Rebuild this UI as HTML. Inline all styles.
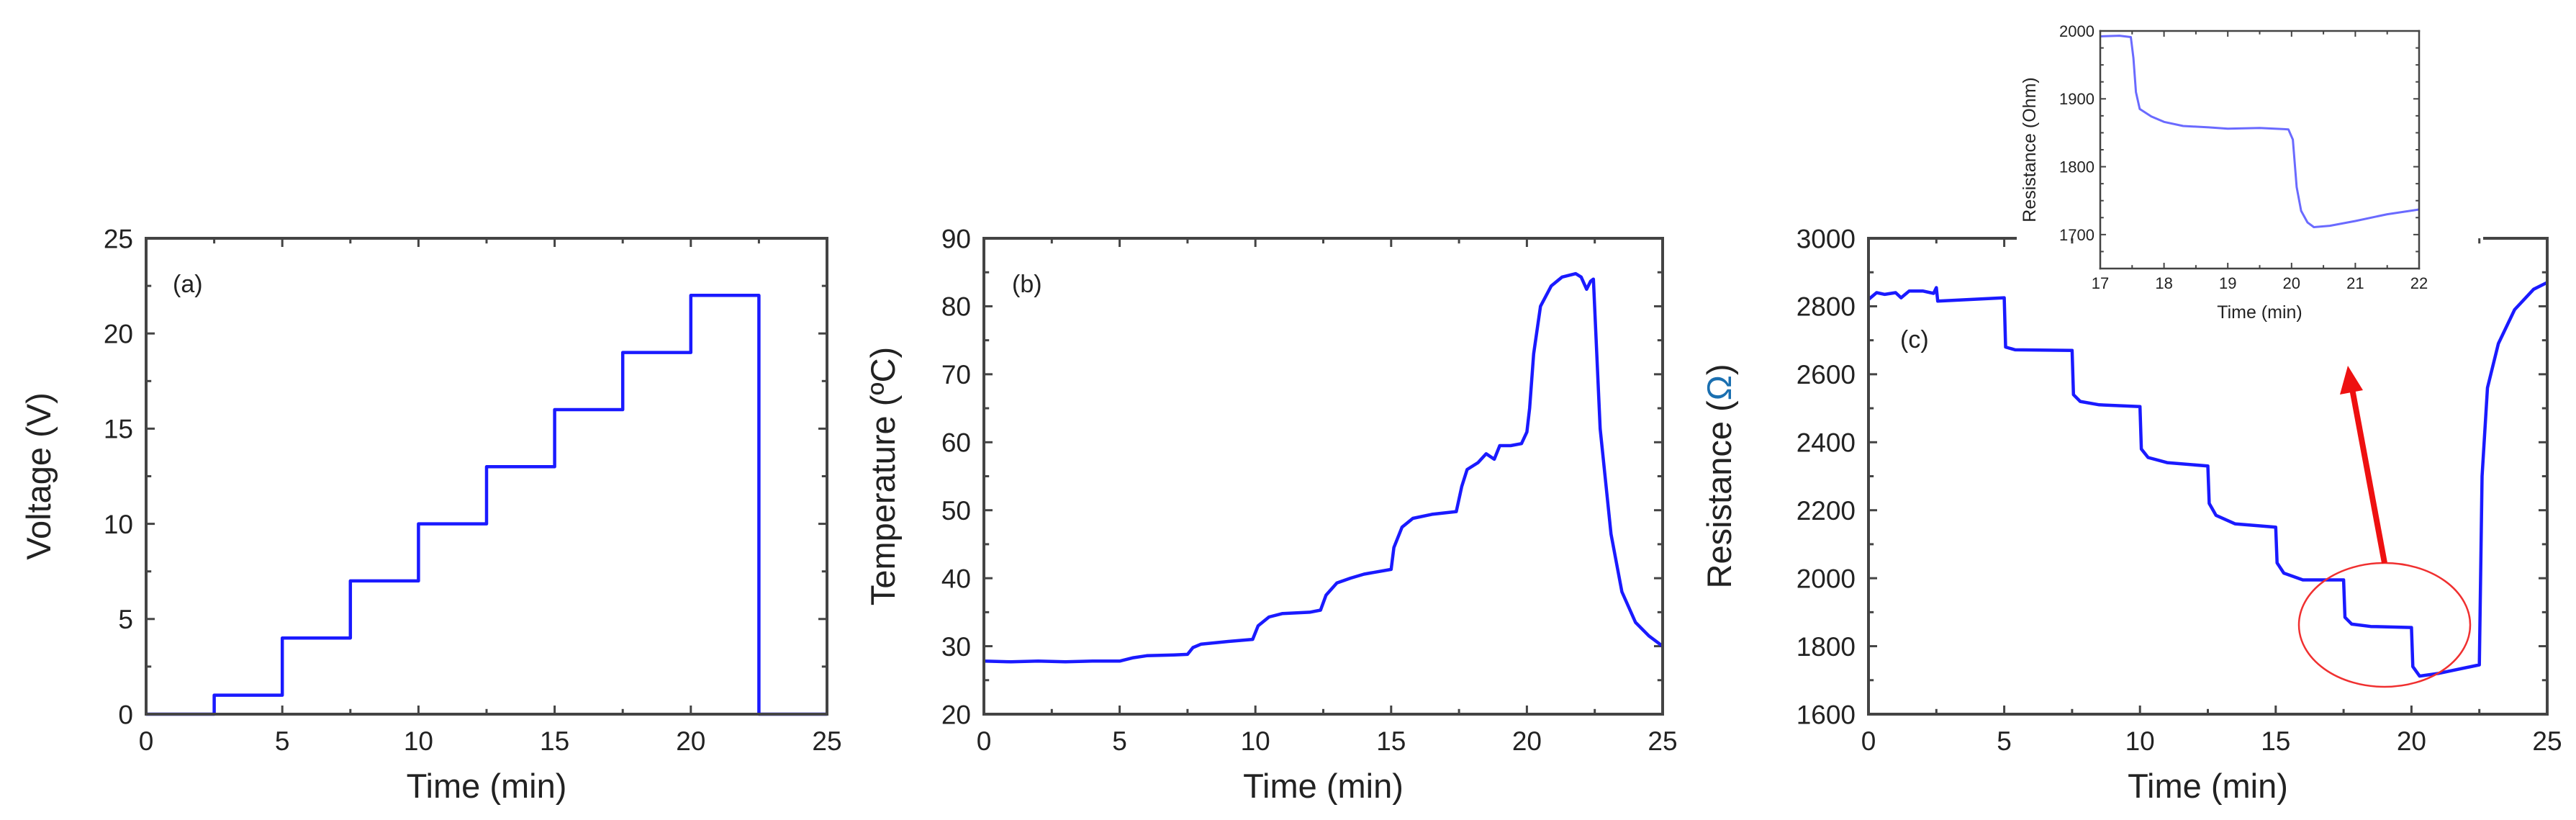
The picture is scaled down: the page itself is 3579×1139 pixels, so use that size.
<!DOCTYPE html>
<html><head><meta charset="utf-8">
<style>
html,body{margin:0;padding:0;background:#fff;}
svg{display:block;font-family:"Liberation Sans",Arial,sans-serif;}
</style></head>
<body>
<svg id="fig" width="3579" height="1139" viewBox="0 0 3579 1139" xmlns="http://www.w3.org/2000/svg"></svg>
<script>
// ---- Panel (a) data: voltage steps ----
const voltTimes = [0, 2.5, 2.5, 5, 5, 7.5, 7.5, 10, 10, 12.5, 12.5, 15, 15, 17.5, 17.5, 20, 20, 22.5, 22.5, 25];
const voltValues = [0, 0, 1, 1, 4, 4, 7, 7, 10, 10, 13, 13, 16, 16, 19, 19, 22, 22, 0, 0];
// ---- Panel (b) data: temperature ----
const tempTimes = [0, 1, 2, 3, 4, 5, 5.5, 6, 7, 7.5, 7.7, 8, 9, 9.9, 10.1, 10.5, 11, 12, 12.4, 12.6, 13, 13.5, 14, 15, 15.1, 15.4, 15.8, 16.5, 17.4, 17.6, 17.8, 18.2, 18.5, 18.8, 19, 19.4, 19.8, 20, 20.1, 20.25, 20.5, 20.9, 21.3, 21.8, 22.0, 22.2, 22.35, 22.45, 22.7, 23.1, 23.5, 24, 24.5, 25];
const tempValues = [27.8, 27.7, 27.8, 27.7, 27.8, 27.8, 28.3, 28.6, 28.7, 28.8, 29.8, 30.3, 30.7, 31.0, 33.0, 34.3, 34.8, 35.0, 35.3, 37.5, 39.3, 40.0, 40.6, 41.3, 44.5, 47.5, 48.8, 49.4, 49.8, 53.5, 56.0, 57.0, 58.3, 57.5, 59.5, 59.5, 59.8, 61.5, 65, 73, 80, 83, 84.3, 84.8, 84.3, 82.5, 83.7, 84.0, 62, 46.5, 38, 33.5, 31.5, 30];
// ---- Panel (c) data: resistance ----
const resTimes = [0, 0.3, 0.6, 1, 1.2, 1.5, 2, 2.4, 2.5, 2.55, 5, 5.05, 5.4, 7.5, 7.55, 7.8, 8.5, 10, 10.05, 10.3, 11, 12.5, 12.55, 12.8, 13.5, 15, 15.05, 15.3, 16, 17.5, 17.55, 17.8, 18.5, 20, 20.05, 20.3, 21, 22.5, 22.6, 22.8, 23.2, 23.8, 24.5, 25];
const resValues = [2820, 2840, 2835, 2840, 2825, 2845, 2845, 2838, 2855, 2815, 2825, 2680, 2672, 2670, 2540, 2520, 2510, 2505, 2380, 2355, 2340, 2330, 2220, 2185, 2160, 2150, 2045, 2015, 1995, 1995, 1885, 1865, 1858, 1855, 1740, 1712, 1720, 1745, 2300, 2560, 2690, 2790, 2850, 2870];
// ---- Inset data ----
const insTimes = [17, 17.3, 17.48, 17.52, 17.56, 17.62, 17.8, 18, 18.3, 18.7, 19, 19.5, 19.95, 20.02, 20.08, 20.15, 20.25, 20.35, 20.6, 21, 21.5, 22];
const insValues = [1992, 1993, 1991, 1960, 1910, 1885, 1874, 1866, 1860, 1858, 1856, 1857, 1855, 1840, 1770, 1735, 1718, 1711, 1713, 1720, 1730, 1737];
// ---- Tick labels ----
const timeTicks = [0, 5, 10, 15, 20, 25];
const voltTicks = [0, 5, 10, 15, 20, 25];
const tempTicks = [20, 30, 40, 50, 60, 70, 80, 90];
const resTicks = [1600, 1800, 2000, 2200, 2400, 2600, 2800, 3000];
const insXTicks = [17, 18, 19, 20, 21, 22];
const insYTicks = [1700, 1800, 1900, 2000];

const NS = "http://www.w3.org/2000/svg";
const svg = document.getElementById('fig');
function mk(tag, attrs, parent, text) {
  const e = document.createElementNS(NS, tag);
  for (const k in attrs) e.setAttribute(k, attrs[k]);
  if (text !== undefined) e.textContent = text;
  (parent || svg).appendChild(e);
  return e;
}

function panel(o) {
  const g = mk('g', {});
  
  
  const sx = v => o.x0 + (v - o.xmin) / (o.xmax - o.xmin) * (o.x1 - o.x0);
  const sy = v => o.y1 - (v - o.ymin) / (o.ymax - o.ymin) * (o.y1 - o.y0);
  if (o.bg) mk('rect', {x: o.x0, y: o.y0, width: o.x1 - o.x0, height: o.y1 - o.y0, fill: '#fff'}, g);
  const tl = o.tick, tm = o.tick * 0.6;
  const ticksG = mk('g', {stroke: '#444', 'stroke-width': o.sw}, g);
  
  
  const nx = Math.round((o.xmax - o.xmin) / o.xminor);
  for (let i = 0; i <= nx; i++) {
    const v = o.xmin + i * o.xminor;
    const r = (v - o.xmin) / o.xstep;
    const major = Math.abs(r - Math.round(r)) < 1e-6;
    const L = major ? tl : tm;
    mk('line', {x1: sx(v), x2: sx(v), y1: o.y1, y2: o.y1 - L}, ticksG);
    mk('line', {x1: sx(v), x2: sx(v), y1: o.y0, y2: o.y0 + L}, ticksG);
  }
  const ny = Math.round((o.ymax - o.ymin) / o.yminor);
  for (let i = 0; i <= ny; i++) {
    const v = o.ymin + i * o.yminor;
    const major = o.yticks.some(t => Math.abs(t - v) < 1e-6);
    const L = major ? tl : tm;
    mk('line', {y1: sy(v), y2: sy(v), x1: o.x0, x2: o.x0 + L}, ticksG);
    mk('line', {y1: sy(v), y2: sy(v), x1: o.x1, x2: o.x1 - L}, ticksG);
  }
  // series
  const d = o.xs.map((v, i) => (i ? 'L' : 'M') + sx(v).toFixed(1) + ',' + sy(o.ys[i]).toFixed(1)).join('');
  const p = mk('path', {d: d, fill: 'none', stroke: o.color, 'stroke-width': o.lw, 'stroke-linejoin': 'round'}, g);
  
  
  // frame
  const fr = mk('g', {stroke: '#444', 'stroke-width': o.fw, fill: 'none', 'stroke-linecap': 'square'}, g);
  
  
  mk('line', {x1: o.x0, y1: o.y1, x2: o.x1, y2: o.y1}, fr);
  mk('line', {x1: o.x0, y1: o.y0, x2: o.x0, y2: o.y1}, fr);
  mk('line', {x1: o.x1, y1: o.y0, x2: o.x1, y2: o.y1}, fr);
  if (o.topGap) {
    mk('line', {x1: o.x0, y1: o.y0, x2: o.topGap[0], y2: o.y0}, fr);
    mk('line', {x1: o.topGap[1], y1: o.y0, x2: o.x1, y2: o.y0}, fr);
  } else mk('line', {x1: o.x0, y1: o.y0, x2: o.x1, y2: o.y0}, fr);
  o.xticks.forEach(v => {
    const t = mk('text', {x: sx(v), y: o.y1 + o.xlabOff, 'font-size': o.fs, 'text-anchor': 'middle', fill: '#222'}, g, String(v));
    
    
  });
  o.yticks.forEach(v => {
    const t = mk('text', {x: o.x0 - o.ylabOff, y: sy(v) + o.fs * 0.36, 'font-size': o.fs, 'text-anchor': 'end', fill: '#222'}, g, String(v));
    
    
  });
  const xt = mk('text', {x: (o.x0 + o.x1) / 2, y: o.xtY, 'font-size': o.tfs, 'text-anchor': 'middle', fill: '#222'}, g, 'Time (min)');
  
  
  const yt = mk('text', {x: 0, y: 0, 'font-size': o.tfs, 'text-anchor': 'middle', fill: '#222', transform: `translate(${o.ytX},${(o.y0 + o.y1) / 2}) rotate(-90)`}, g);
  
  
  yt.innerHTML = o.ytitle;
  if (o.label) {
    const l = mk('text', {x: o.label[0], y: o.label[1], 'font-size': 34, fill: '#222'}, g, o.label[2]);
    
    
  }
  return {sx, sy};
}

const common = {xmin: 0, xmax: 25, xstep: 5, xminor: 2.5, xticks: timeTicks, y0: 331, y1: 992,
  sw: 3, fw: 4, tick: 12, fs: 37, tfs: 47, xlabOff: 50, ylabOff: 18, xtY: 1108, color: '#1a1aff', lw: 4.5};

panel(Object.assign({}, common, {name: 'voltage-chart', x0: 203, x1: 1149, ymin: 0, ymax: 25, yminor: 2.5, yticks: voltTicks,
  ytitle: 'Voltage (V)', ytX: 70, xs: voltTimes, ys: voltValues, label: [240, 406, '(a)']}));
panel(Object.assign({}, common, {name: 'temperature-chart', x0: 1367, x1: 2310, ymin: 20, ymax: 90, yminor: 5, yticks: tempTicks,
  ytitle: 'Temperature (ºC)', ytX: 1243, xs: tempTimes, ys: tempValues, label: [1406, 406, '(b)']}));
panel(Object.assign({}, common, {name: 'resistance-chart', x0: 2596, x1: 3539, ymin: 1600, ymax: 3000, yminor: 100, yticks: resTicks,
  ytitle: 'Resistance (<tspan fill="#1a6fb0">Ω</tspan>)', ytX: 2405, xs: resTimes, ys: resValues, label: [2640, 483, '(c)'],
  topGap: [2800, 3452]}));

panel({name: 'inset-chart', x0: 2918, x1: 3361, y0: 43, y1: 373, xmin: 17, xmax: 22, xstep: 1, xminor: 0.5, xticks: insXTicks,
  ymin: 1650, ymax: 2000, yminor: 25, yticks: insYTicks, sw: 2, fw: 2.5, tick: 8, fs: 22, tfs: 25, xlabOff: 28, ylabOff: 8,
  xtY: 442, ytitle: 'Resistance (Ohm)', ytX: 2828, xs: insTimes, ys: insValues, color: '#6a6aff', lw: 3, bg: true});

const ann = mk('g', {});


const el = mk('ellipse', {cx: 3313, cy: 868, rx: 119, ry: 86, fill: 'none', stroke: '#f03030', 'stroke-width': 2.5}, ann);


const ar = mk('line', {x1: 3313, y1: 782, x2: 3268, y2: 540, stroke: '#ee1111', 'stroke-width': 8}, ann);


const ah = mk('polygon', {points: '3262,508 3251,548 3283,542', fill: '#ee1111'}, ann);


</script>
</body></html>
